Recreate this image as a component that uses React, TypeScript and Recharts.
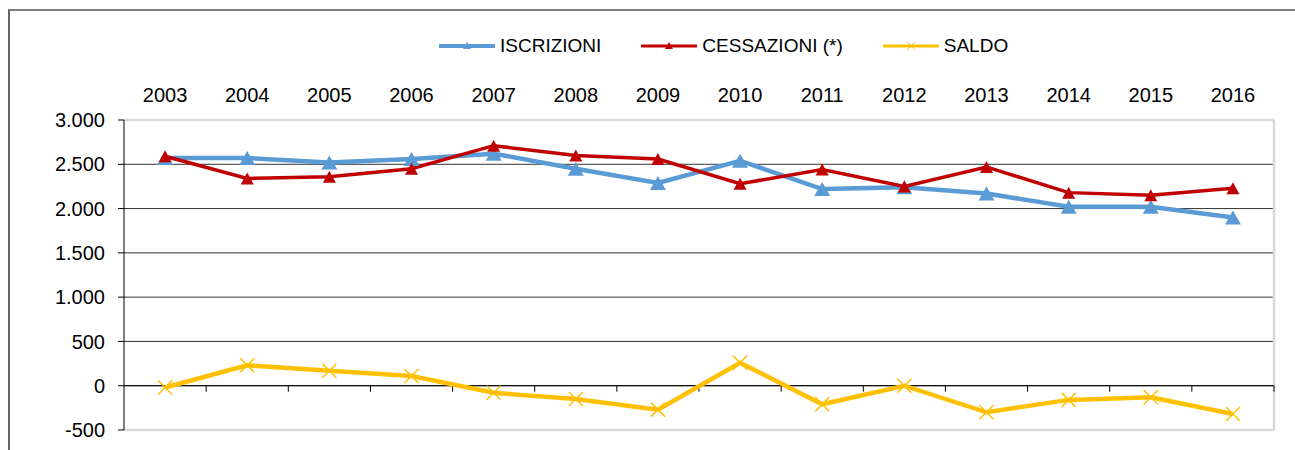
import React from "react";
import {
  LineChart,
  Line,
  XAxis,
  YAxis,
  CartesianGrid,
  Legend,
  ReferenceLine,
} from "recharts";

const years = [2003, 2004, 2005, 2006, 2007, 2008, 2009, 2010, 2011, 2012, 2013, 2014, 2015, 2016];
const iscrizioni = [2570, 2570, 2520, 2560, 2620, 2450, 2290, 2540, 2220, 2240, 2170, 2020, 2020, 1900];
const cessazioni = [2590, 2340, 2360, 2450, 2710, 2600, 2560, 2280, 2440, 2250, 2470, 2180, 2150, 2230];
const saldo = [-20, 230, 170, 110, -80, -150, -270, 260, -210, 0, -300, -160, -130, -320];
const yTicks = [-500, 0, 500, 1000, 1500, 2000, 2500, 3000];

const BLUE = "#5b9bd5";
const RED = "#c00000";
const YELLOW = "#ffc000";
const FONT = '"Liberation Sans", Arial, Helvetica, sans-serif';

const data = years.map((year, i) => ({
  year,
  iscrizioni: iscrizioni[i],
  cessazioni: cessazioni[i],
  saldo: saldo[i],
}));

// Italian style thousands separator: 3.000
const fmt = (v: number) => String(v).replace(/\B(?=(\d{3})+(?!\d))/g, ".");

const triangleDot = (color: string, w: number, h: number) => (p: any) => {
  const { cx, cy, index } = p;
  if (cx == null || cy == null) return <g key={index} />;
  return (
    <polygon
      key={index}
      points={`${cx},${cy - h / 2} ${cx + w / 2},${cy + h / 2} ${cx - w / 2},${cy + h / 2}`}
      fill={color}
    />
  );
};

const crossDot = (p: any) => {
  const { cx, cy, index } = p;
  if (cx == null || cy == null) return <g key={index} />;
  const r = 7;
  return (
    <g key={index} stroke={YELLOW} strokeWidth={1.5}>
      <line x1={cx - r} y1={cy - r} x2={cx + r} y2={cy + r} />
      <line x1={cx - r} y1={cy + r} x2={cx + r} y2={cy - r} />
    </g>
  );
};

// zero line with category boundary tick marks below it
const zeroLine = (p: any) => {
  const { x1, x2, y1 } = p;
  const n = years.length;
  const step = (x2 - x1) / n;
  return (
    <g>
      <line x1={x1} y1={y1} x2={x2} y2={y1} stroke="#000" strokeWidth={1} />
      {years.map((_, i) => (
        <line
          key={i}
          x1={x1 + step * (i + 1)}
          x2={x1 + step * (i + 1)}
          y1={y1}
          y2={y1 + 6}
          stroke="#000"
          strokeWidth={1}
        />
      ))}
    </g>
  );
};

const legendItems = [
  { label: "ISCRIZIONI", color: BLUE, width: 4, marker: "tri" },
  { label: "CESSAZIONI (*)", color: RED, width: 3, marker: "tri" },
  { label: "SALDO", color: YELLOW, width: 3, marker: "x" },
];

const LegendContent = () => (
  <div style={{ display: "flex", alignItems: "center", fontFamily: FONT, fontSize: 19, color: "#000" }}>
    {legendItems.map((it, i) => (
      <div key={it.label} style={{ display: "flex", alignItems: "center", marginRight: i < 2 ? 40 : 0 }}>
        <svg width={56} height={14} style={{ marginRight: 5 }}>
          <line x1={1} y1={7} x2={55} y2={7} stroke={it.color} strokeWidth={it.width} strokeLinecap="round" />
          {it.marker === "tri" ? (
            <polygon points="28,3 32,10 24,10" fill={it.color} />
          ) : (
            <g stroke={it.color} strokeWidth={1}>
              <line x1={24} y1={3} x2={32} y2={11} />
              <line x1={24} y1={11} x2={32} y2={3} />
            </g>
          )}
        </svg>
        <span>{it.label}</span>
      </div>
    ))}
  </div>
);

export default function App() {
  return (
    <div style={{ position: "absolute", left: 0, top: 0, width: 1295, height: 450, background: "#fff", overflow: "hidden" }}>
      <div
        style={{
          position: "absolute",
          left: 8,
          top: 9,
          width: 1300,
          height: 460,
          borderTop: "2px solid #808080",
          borderLeft: "2px solid #666",
        }}
      />
      <div style={{ position: "absolute", left: 0, top: 0 }}>
        <LineChart width={1295} height={450} data={data} margin={{ top: 0, right: 21, bottom: 20, left: 0 }}>
          <CartesianGrid vertical={false} stroke="#333" strokeWidth={1} />
          <XAxis
            dataKey="year"
            type="number"
            orientation="top"
            domain={[2002.5, 2016.5]}
            ticks={years}
            interval={0}
            height={120}
            axisLine={false}
            tickLine={false}
            tickSize={6}
            tickMargin={12}
            tick={{ fill: "#000", fontSize: 20, fontFamily: FONT }}
            allowDataOverflow
          />
          <YAxis
            domain={[-500, 3000]}
            ticks={yTicks}
            interval={0}
            width={124}
            axisLine={{ stroke: "#000" }}
            tickLine={{ stroke: "#000" }}
            tickSize={6}
            tickMargin={13}
            tickFormatter={fmt}
            tick={{ fill: "#000", fontSize: 20, fontFamily: FONT }}
            allowDataOverflow
          />
          <ReferenceLine y={3000} stroke="#d9d9d9" strokeWidth={2.5} />
          <ReferenceLine y={-500} stroke="#d9d9d9" strokeWidth={2.5} />
          <ReferenceLine x={2016.5} stroke="#d9d9d9" strokeWidth={2.5} />
          <ReferenceLine y={0} shape={zeroLine} />
          <Legend
            verticalAlign="middle"
            layout="horizontal"
            content={<LegendContent />}
            wrapperStyle={{ left: 439, top: 35, width: "auto" }}
          />
          <Line
            dataKey="iscrizioni"
            name="ISCRIZIONI"
            stroke={BLUE}
            strokeWidth={4.5}
            dot={triangleDot(BLUE, 16, 14)}
            activeDot={false}
            isAnimationActive={false}
          />
          <Line
            dataKey="cessazioni"
            name="CESSAZIONI (*)"
            stroke={RED}
            strokeWidth={3.5}
            dot={triangleDot(RED, 13, 12)}
            activeDot={false}
            isAnimationActive={false}
          />
          <Line
            dataKey="saldo"
            name="SALDO"
            stroke={YELLOW}
            strokeWidth={4.5}
            dot={crossDot}
            activeDot={false}
            isAnimationActive={false}
          />
        </LineChart>
      </div>
    </div>
  );
}
